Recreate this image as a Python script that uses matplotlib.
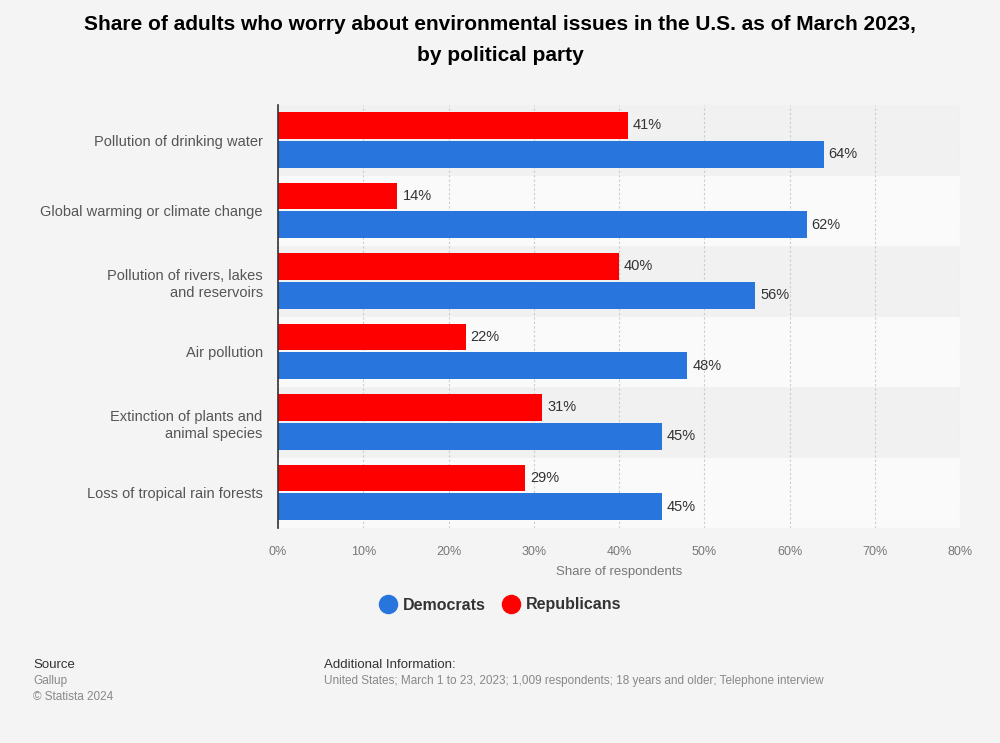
import matplotlib
matplotlib.use("Agg")
import matplotlib.pyplot as plt
from matplotlib.lines import Line2D
import numpy as np

plt.rcParams['font.family'] = ['Liberation Sans', 'DejaVu Sans']

categories = ["Pollution of drinking water", "Global warming or climate change",
              "Pollution of rivers, lakes\nand reservoirs", "Air pollution",
              "Extinction of plants and\nanimal species", "Loss of tropical rain forests"]
republicans = [41, 14, 40, 22, 31, 29]
democrats = [64, 62, 56, 48, 45, 45]
xticks = [0, 10, 20, 30, 40, 50, 60, 70, 80]
xtick_labels = ["0%", "10%", "20%", "30%", "40%", "50%", "60%", "70%", "80%"]

BLUE = "#2876dd"
RED = "#ff0000"
BG = "#f4f4f4"

W, H = 1000, 743
fig = plt.figure(figsize=(W/100, H/100), dpi=100, facecolor=BG)
ax = fig.add_axes([278/W, 1-528/H, (960-278)/W, (528-105)/H])
ax.set_facecolor(BG)

n = len(categories)
y = np.arange(n)
for i in range(n):
    col = "#f1f1f1" if i % 2 == 0 else "#fafafa"
    ax.axhspan(i-0.5, i+0.5, color=col, zorder=0, lw=0)

h = 0.38
ax.barh(y-0.21, republicans, height=h, color=RED, zorder=3)
ax.barh(y+0.2, democrats, height=h, color=BLUE, zorder=3)
for i in range(n):
    ax.text(republicans[i] + 0.6, y[i]-0.21, f"{republicans[i]}%", va="center", ha="left",
            fontsize=10.5, color="#333333", zorder=4)
    ax.text(democrats[i] + 0.6, y[i]+0.2, f"{democrats[i]}%", va="center", ha="left",
            fontsize=10.5, color="#333333", zorder=4)

ax.set_ylim(n-0.5, -0.5)
ax.set_xlim(0, 80)
ax.set_yticks(y)
ax.set_yticklabels(categories, fontsize=10.5, color="#555555", ha="right", linespacing=1.3)
ax.tick_params(axis="y", length=0, pad=11)
ax.set_xticks(xticks)
ax.set_xticklabels(xtick_labels, fontsize=9, color="#777777")
ax.tick_params(axis="x", length=0, pad=13)
ax.xaxis.grid(True, linestyle=(0, (2, 2)), color="#cccccc", lw=0.8, zorder=1)
ax.set_axisbelow(True)
for s in ["top", "right", "bottom"]:
    ax.spines[s].set_visible(False)
ax.spines["left"].set_color("#333333")
ax.spines["left"].set_linewidth(1.2)
ax.spines["left"].set_zorder(5)
ax.set_xlabel("Share of respondents", fontsize=9.5, color="#777777", labelpad=6)

fig.text(500/W, 1-40/H, "Share of adults who worry about environmental issues in the U.S. as of March 2023,\nby political party",
         ha="center", va="center", fontsize=15, fontweight="bold", color="#000000", linespacing=1.8)

handles = [Line2D([], [], marker="o", ls="", color=BLUE, markersize=13),
           Line2D([], [], marker="o", ls="", color=RED, markersize=13)]
leg = fig.legend(handles, ["Democrats", "Republicans"], loc="center", bbox_to_anchor=(500/W, 1-605/H),
                 ncol=2, frameon=False, handletextpad=0.3, columnspacing=1.0, handlelength=1.2,
                 prop={"size": 11.5, "weight": "bold"})
for t in leg.get_texts():
    t.set_color("#333333")

fig.text(33/W, 1-665/H, "Source", fontsize=9.5, color="#333333", va="center")
fig.text(33/W, 1-681/H, "Gallup", fontsize=8.5, color="#888888", va="center")
fig.text(33/W, 1-697/H, "© Statista 2024", fontsize=8.5, color="#888888", va="center")
fig.text(324/W, 1-665/H, "Additional Information:", fontsize=9.5, color="#333333", va="center")
fig.text(324/W, 1-681/H, "United States; March 1 to 23, 2023; 1,009 respondents; 18 years and older; Telephone interview",
         fontsize=8.5, color="#888888", va="center")

fig.savefig("out.png", dpi=100, facecolor=BG)
